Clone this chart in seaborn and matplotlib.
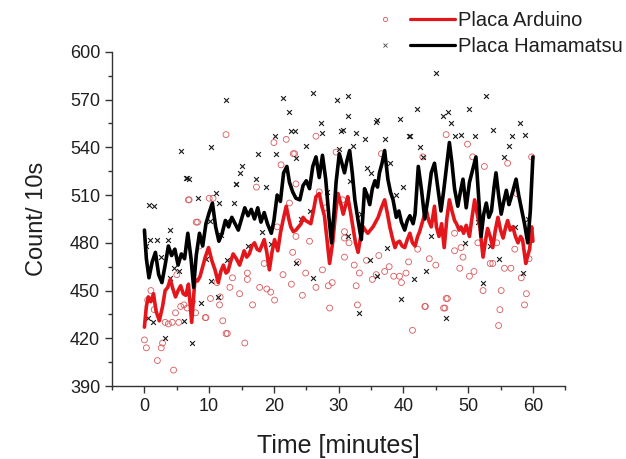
import matplotlib
matplotlib.use("Agg")
import matplotlib.pyplot as plt
from matplotlib.lines import Line2D
from matplotlib.legend_handler import HandlerTuple
from matplotlib.ticker import MultipleLocator
import pandas as pd
import seaborn as sns

# === Datos ===
# Puntos individuales (cuentas cada 10 s)
ard_t = [0.0, 0.3, 0.5, 1.0, 1.5, 2.0, 2.6, 2.8, 3.2, 3.7, 4.3, 4.5, 4.8, 5.0, 5.3, 5.6,
         6.1, 6.6, 6.8, 6.9, 7.4, 7.9, 8.0, 8.2, 8.5, 9.4, 9.5, 10.0, 10.2, 10.6, 11.2,
         11.6, 11.7, 12.1, 12.6, 12.6, 12.8, 13.2, 13.6, 14.7, 15.5, 15.9, 15.9, 16.7,
         17.3, 17.8, 18.5, 18.9, 19.5, 20.0, 20.1, 20.5, 21.1, 21.4, 21.9, 22.4, 22.7,
         22.9, 23.0, 23.2, 23.4, 23.4, 23.7, 24.4, 24.9, 25.5, 26.5, 26.5, 27.0, 27.5,
         28.0, 28.4, 28.6, 29.0, 29.6, 30.6, 30.9, 30.9, 30.9, 31.6, 32.4, 32.7, 32.9,
         33.2, 34.3, 35.2, 35.8, 36.2, 36.6, 37.1, 37.8, 38.5, 39.4, 39.7, 40.4, 40.8,
         41.4, 42.2, 43.0, 43.3, 43.4, 44.0, 45.0, 46.2, 46.4, 46.6, 46.6, 46.8, 47.9,
         47.9, 48.7, 48.9, 49.2, 49.9, 50.2, 50.7, 50.9, 51.5, 52.3, 52.5, 53.4, 53.8,
         54.4, 54.7, 54.9, 55.1, 55.6, 56.1, 56.6, 57.2, 57.5, 58.2, 58.7, 59.0, 59.4, 59.8]
ard_v = [419, 414, 444, 450, 438, 406, 414, 417, 430, 429, 430, 400, 436, 460, 430, 440,
         441, 439, 507, 507, 443, 436, 493, 493, 478, 433, 433, 508, 445, 508, 455,
         441, 446, 431, 548, 423, 423, 452, 458, 448, 417, 457, 461, 441,
         515, 452, 467, 451, 449, 543, 444, 490, 529, 460, 545, 505, 454,
         474, 536, 536, 517, 484, 468, 447, 461, 481, 547, 452, 512, 463,
         502, 453, 439, 455, 537, 507, 487, 483, 471, 480, 466, 453, 441,
         461, 469, 457, 460, 472, 536, 462, 465, 459, 459, 455, 461, 468,
         425, 476, 534, 440, 440, 470, 466, 439, 439, 548, 445, 445, 486,
         475, 464, 477, 471, 542, 459, 534, 462, 480, 450, 528, 467, 467,
         480, 428, 438, 450, 464, 530, 464, 476, 511, 458, 441, 448, 470, 534]

ham_t = [0.3, 0.5, 0.7, 0.9, 1.3, 1.5, 1.9, 2.5, 3.2, 3.6, 3.9, 4.0, 4.5, 5.3, 5.7, 6.1,
         6.4, 6.6, 6.9, 7.4, 8.3, 8.7, 9.5, 10.1, 10.3, 10.3, 11.1, 11.3, 11.3, 11.5,
         11.8, 12.6, 12.8, 12.8, 13.9, 14.1, 14.2, 14.7, 15.1, 16.0, 17.3, 17.5, 18.2,
         18.8, 19.5, 20.1, 20.3, 21.4, 22.3, 22.7, 23.2, 23.4, 23.4, 24.2, 25.0, 25.5,
         26.0, 26.1, 27.3, 27.5, 28.2, 29.8, 30.1, 30.3, 30.6, 31.4, 31.4, 31.5, 31.7,
         32.2, 32.7, 33.1, 33.5, 34.0, 34.3, 34.8, 35.0, 35.8, 35.9, 35.9, 37.1, 37.4,
         38.0, 38.8, 39.4, 39.7, 39.9, 40.8, 41.0, 41.7, 42.1, 42.6, 43.0, 43.5, 44.2,
         45.1, 46.1, 46.6, 46.9, 47.4, 48.0, 48.9, 49.5, 50.2, 51.0, 51.5, 52.3, 52.8,
         53.3, 53.8, 54.7, 55.6, 56.3, 56.7, 57.2, 58.0, 58.4, 58.8, 59.3]
ham_v = [478, 433, 504, 482, 430, 503, 482, 471, 420, 482, 458, 488, 464, 462, 538, 431,
         521, 521, 520, 417, 508, 442, 470, 494, 540, 456, 511, 460, 446, 505,
         485, 570, 469, 494, 505, 517, 517, 524, 528, 478, 520, 536, 487,
         515, 479, 547, 536, 571, 562, 550, 550, 533, 467, 495, 541, 500,
         458, 574, 555, 549, 512, 570, 539, 550, 551, 560, 484, 572, 519,
         541, 549, 436, 498, 545, 527, 469, 524, 556, 557, 459, 545, 477,
         530, 510, 558, 445, 515, 547, 547, 457, 564, 540, 534, 462, 484,
         587, 560, 433, 562, 555, 547, 548, 480, 564, 547, 493, 455, 572,
         478, 551, 470, 534, 541, 547, 490, 555, 461, 548, 495]

# Curvas suavizadas
ard_line_t = [0, 0.3, 0.6, 1.0, 1.4, 1.8, 2.3, 2.8, 3.2, 3.6, 4.0, 4.4, 4.8, 5.2, 5.6, 6.0,
              6.4, 6.8, 7.3, 7.8, 8.2, 8.6, 9.0, 9.4, 9.9, 10.4, 10.9, 11.4, 11.8, 12.2,
              12.6, 12.9, 13.3, 13.7, 14.2, 14.7, 15.1, 15.4, 15.8, 16.2, 16.6, 17.0,
              17.4, 17.8, 18.2, 18.5, 18.9, 19.3, 19.7, 20.1, 20.6, 21.0, 21.4, 21.9,
              22.3, 22.6, 23.0, 23.4, 23.8, 24.2, 24.5, 24.9, 25.3, 25.7, 26.1, 26.5,
              27.0, 27.4, 27.8, 28.2, 28.6, 29.1, 29.5, 29.9, 30.3, 30.7, 31.1, 31.4,
              31.8, 32.2, 32.6, 33.0, 33.4, 33.8, 34.1, 34.5, 34.9, 35.3, 35.7, 36.1,
              36.6, 37.1, 37.5, 37.9, 38.3, 38.7, 39.0, 39.4, 39.8, 40.2, 40.6, 41.0,
              41.4, 41.8, 42.2, 42.5, 43.0, 43.5, 43.9, 44.3, 44.8, 45.1, 45.5, 45.9,
              46.3, 46.7, 47.1, 47.5, 47.9, 48.2, 48.6, 48.9, 49.3, 49.7, 50.2, 50.6,
              51.0, 51.4, 51.8, 52.3, 52.7, 53.0, 53.4, 53.8, 54.2, 54.6, 55.0, 55.4,
              55.8, 56.1, 56.5, 56.9, 57.3, 57.7, 58.1, 58.4, 58.9, 59.2, 59.5, 59.8, 60.0]
ard_line_v = [427, 440, 446, 443, 448, 437, 431, 440, 450, 452, 457, 451, 446, 450, 453, 448,
              447, 454, 430, 457, 456, 459, 465, 471, 477, 469, 463, 455, 462, 466,
              461, 462, 468, 473, 470, 466, 471, 475, 471, 473, 478, 480,
              476, 475, 479, 482, 474, 463, 474, 482, 475, 486, 494, 503,
              495, 490, 487, 488, 490, 492, 496, 494, 493, 492, 500, 509,
              511, 503, 497, 482, 467, 481, 498, 511, 505, 498, 504, 509,
              500, 490, 480, 474, 484, 490, 488, 486, 488, 490, 493, 496,
              502, 507, 499, 490, 483, 477, 480, 481, 478, 477, 482, 486,
              480, 478, 484, 487, 494, 501, 494, 490, 503, 490, 484, 492,
              477, 495, 507, 500, 494, 492, 488, 490, 486, 491, 484, 496,
              507, 498, 490, 471, 482, 489, 484, 477, 488, 496, 488, 483,
              490, 494, 488, 490, 484, 480, 484, 482, 467, 472, 476, 490, 481]

ham_line_t = [0, 0.3, 0.7, 1.2, 1.7, 2.2, 2.7, 3.2, 3.7, 4.2, 4.7, 5.2, 5.7, 6.2, 6.7, 7.2,
              7.6, 8.0, 8.5, 9.0, 9.5, 10.0, 10.5, 11.0, 11.5, 12.0, 12.5, 13.0, 13.5,
              14.0, 14.5, 15.0, 15.5, 16.0, 16.5, 17.0, 17.5, 18.0, 18.5, 19.0, 19.6,
              20.0, 20.5, 21.0, 21.5, 22.0, 22.4, 22.9, 23.4, 24.0, 24.5, 25.0, 25.5,
              26.0, 26.5, 27.0, 27.5, 28.0, 28.5, 28.9, 29.3, 29.6, 30.1, 30.5, 30.9,
              31.3, 31.7, 32.1, 32.5, 33.0, 33.5, 34.0, 34.4, 34.8, 35.2, 35.6, 36.0,
              36.3, 36.7, 37.1, 37.6, 38.0, 38.4, 38.9, 39.3, 39.7, 40.2, 40.6, 41.0,
              41.5, 41.8, 42.3, 42.8, 43.3, 43.8, 44.3, 44.8, 45.3, 45.8, 46.2, 46.6,
              47.1, 47.5, 47.9, 48.4, 48.8, 49.2, 49.7, 50.2, 50.7, 51.2, 51.6, 52.0,
              52.4, 52.8, 53.2, 53.6, 54.0, 54.3, 54.7, 55.1, 55.5, 55.9, 56.3, 56.6,
              57.0, 57.4, 57.8, 58.2, 58.7, 59.2, 59.6, 60.0]
ham_line_v = [488, 470, 458, 468, 474, 460, 455, 466, 478, 472, 476, 466, 473, 470, 486, 470,
              452, 472, 486, 478, 492, 499, 505, 490, 481, 486, 494, 490, 496,
              492, 488, 495, 502, 497, 501, 495, 502, 493, 499, 492, 486,
              494, 510, 506, 524, 528, 518, 512, 508, 507, 516, 519, 514,
              528, 534, 521, 535, 520, 496, 480, 500, 518, 536, 530, 524,
              532, 538, 524, 507, 494, 482, 514, 510, 504, 514, 519, 515,
              524, 530, 538, 520, 512, 507, 496, 500, 493, 488, 494, 497,
              492, 498, 528, 513, 495, 508, 524, 530, 515, 500, 512, 526,
              543, 530, 514, 503, 512, 520, 502, 518, 526, 534, 510, 484,
              498, 505, 496, 500, 515, 524, 510, 498, 506, 513, 504, 508,
              514, 520, 510, 502, 492, 480, 500, 534]

ROJO = "#e3161b"
ROJO_PUNTO = "#d9595c"
TEXTO = "#1f1f1f"

pts_ard = pd.DataFrame({"t": ard_t, "v": ard_v})
pts_ham = pd.DataFrame({"t": ham_t, "v": ham_v})
lin_ard = pd.DataFrame({"t": ard_line_t, "v": ard_line_v})
lin_ham = pd.DataFrame({"t": ham_line_t, "v": ham_line_v})

sns.set_style("ticks")
plt.rcParams["font.family"] = ["Liberation Sans", "DejaVu Sans"]

fig = plt.figure(figsize=(6.26, 4.59), dpi=100)
ax = fig.add_axes([0.179, 0.159, 0.724, 0.728])

sns.scatterplot(data=pts_ard, x="t", y="v", ax=ax, marker="o", s=18,
                facecolor="none", edgecolor=ROJO_PUNTO, linewidth=0.6, zorder=2)
sns.scatterplot(data=pts_ham, x="t", y="v", ax=ax, marker="x", s=12,
                color="#1a1a1a", linewidth=0.8, zorder=2)
sns.lineplot(data=lin_ard, x="t", y="v", ax=ax, color=ROJO, linewidth=2.6,
             estimator=None, sort=False, zorder=3)
sns.lineplot(data=lin_ham, x="t", y="v", ax=ax, color="black", linewidth=2.6,
             estimator=None, sort=False, zorder=4)

ax.set_xlim(-5, 65)
ax.set_ylim(390, 600)
ax.xaxis.set_major_locator(MultipleLocator(10))
ax.xaxis.set_minor_locator(MultipleLocator(5))
ax.yaxis.set_major_locator(MultipleLocator(30))
ax.yaxis.set_minor_locator(MultipleLocator(15))
ax.set_xticks(range(0, 61, 10))
ax.tick_params(which="major", length=5, width=1, color="#333333",
               labelsize=13, labelcolor=TEXTO, direction="out")
ax.tick_params(which="minor", length=3, width=1, color="#333333", direction="out")
for s in ["left", "bottom"]:
    ax.spines[s].set_color("#333333")
    ax.spines[s].set_linewidth(1)
sns.despine(ax=ax)

ax.set_xlabel("Time [minutes]", fontsize=18, color=TEXTO, labelpad=14)
ax.set_ylabel("Count/ 10s", fontsize=17, color=TEXTO, labelpad=16)

# Leyenda estilo Origin: simbolo + linea
h_ard = (Line2D([], [], marker="o", ls="none", ms=3, mfc="none", mec=ROJO_PUNTO, mew=0.6),
         Line2D([], [], color=ROJO, lw=2.3))
h_ham = (Line2D([], [], marker="x", ls="none", ms=3, color="#444444", mew=0.6),
         Line2D([], [], color="black", lw=2.3))
fig.legend([h_ard, h_ham], ["Placa Arduino", "Placa Hamamatsu"],
           handler_map={tuple: HandlerTuple(ndivide=None, pad=0.1)},
           loc="upper left", bbox_to_anchor=(0.55, 1.015), frameon=False,
           fontsize=14.5, handlelength=4.6, handletextpad=0.15, labelspacing=0.35,
           labelcolor=TEXTO)

fig.savefig("out.png", dpi=100)
